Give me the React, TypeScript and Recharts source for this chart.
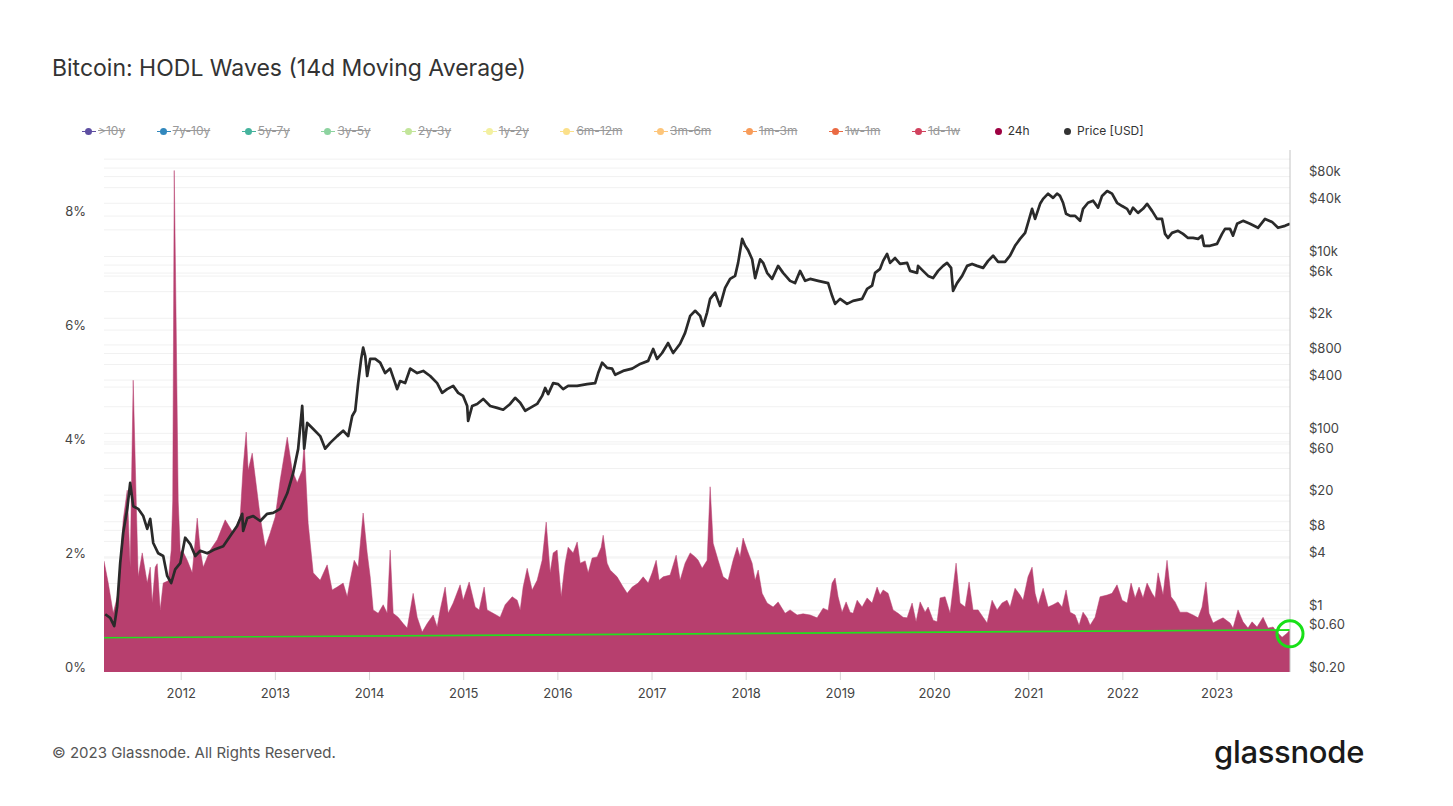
import React from 'react';
import { ComposedChart, Area, Line, XAxis, YAxis, CartesianGrid, ReferenceDot } from 'recharts';

// ---- 24h HODL wave share (%), 14d MA, by decimal year ----
const pctDates = [
  2011.18, 2011.225, 2011.278, 2011.331, 2011.384, 2011.427, 2011.458, 2011.49, 2011.522, 2011.543,
  2011.586, 2011.639, 2011.671, 2011.692, 2011.724, 2011.745, 2011.777, 2011.809, 2011.862, 2011.894,
  2011.91, 2011.926, 2011.947, 2011.968, 2011.99, 2012.011, 2012.064, 2012.117, 2012.17, 2012.202,
  2012.234, 2012.308, 2012.382, 2012.467, 2012.552, 2012.626, 2012.658, 2012.69, 2012.711, 2012.754,
  2012.786, 2012.839, 2012.892, 2012.945, 2012.998, 2013.051, 2013.126, 2013.179, 2013.232, 2013.285,
  2013.306, 2013.348, 2013.402, 2013.476, 2013.55, 2013.603, 2013.656, 2013.72, 2013.763, 2013.794,
  2013.837, 2013.879, 2013.932, 2013.975, 2014.007, 2014.039, 2014.092, 2014.145, 2014.187, 2014.219,
  2014.251, 2014.304, 2014.357, 2014.4, 2014.463, 2014.506, 2014.559, 2014.612, 2014.676, 2014.718,
  2014.75, 2014.803, 2014.835, 2014.888, 2014.962, 2014.994, 2015.058, 2015.122, 2015.164, 2015.217,
  2015.249, 2015.313, 2015.387, 2015.44, 2015.515, 2015.568, 2015.6, 2015.631, 2015.674, 2015.727,
  2015.78, 2015.833, 2015.876, 2015.918, 2015.95, 2015.992, 2016.035, 2016.077, 2016.109, 2016.162,
  2016.205, 2016.237, 2016.29, 2016.322, 2016.364, 2016.417, 2016.46, 2016.481, 2016.523, 2016.555,
  2016.629, 2016.693, 2016.736, 2016.789, 2016.852, 2016.906, 2016.959, 2017.001, 2017.044, 2017.075,
  2017.118, 2017.192, 2017.256, 2017.298, 2017.351, 2017.405, 2017.458, 2017.49, 2017.532, 2017.585,
  2017.617, 2017.649, 2017.702, 2017.755, 2017.808, 2017.861, 2017.904, 2017.935, 2017.967, 2018.01,
  2018.063, 2018.095, 2018.127, 2018.169, 2018.222, 2018.286, 2018.339, 2018.413, 2018.466, 2018.541,
  2018.604, 2018.679, 2018.753, 2018.817, 2018.87, 2018.912, 2018.944, 2018.976, 2019.018, 2019.061,
  2019.103, 2019.135, 2019.178, 2019.231, 2019.284, 2019.337, 2019.39, 2019.422, 2019.454, 2019.507,
  2019.56, 2019.613, 2019.666, 2019.709, 2019.762, 2019.804, 2019.847, 2019.9, 2019.932, 2019.985,
  2020.027, 2020.059, 2020.112, 2020.165, 2020.229, 2020.271, 2020.325, 2020.367, 2020.409, 2020.463,
  2020.516, 2020.558, 2020.611, 2020.664, 2020.717, 2020.77, 2020.802, 2020.855, 2020.908, 2020.94,
  2020.993, 2021.036, 2021.068, 2021.1, 2021.153, 2021.206, 2021.259, 2021.312, 2021.355, 2021.397,
  2021.44, 2021.493, 2021.535, 2021.577, 2021.62, 2021.652, 2021.705, 2021.758, 2021.833, 2021.885,
  2021.938, 2021.992, 2022.045, 2022.087, 2022.13, 2022.172, 2022.214, 2022.257, 2022.31, 2022.342,
  2022.374, 2022.427, 2022.469, 2022.512, 2022.554, 2022.607, 2022.682, 2022.745, 2022.799, 2022.841,
  2022.883, 2022.915, 2022.958, 2023.011, 2023.064, 2023.138, 2023.17, 2023.223, 2023.276, 2023.329,
  2023.372, 2023.425, 2023.489, 2023.542, 2023.595, 2023.637, 2023.691, 2023.744, 2023.775,
];
const pctValues = [
  1.95, 1.56, 1.03, 1.39, 2.67, 3.19, 1.84, 5.12, 3.0, 1.67,
  2.09, 1.56, 1.84, 1.21, 1.84, 1.9, 1.09, 1.56, 1.6, 2.14,
  3.0, 8.8, 6.0, 3.0, 2.1, 2.14, 1.96, 1.74, 2.7, 2.14,
  1.84, 2.14, 2.32, 2.67, 2.44, 2.72, 3.6, 4.21, 3.54, 3.84,
  3.42, 2.72, 2.19, 2.44, 2.72, 3.37, 4.12, 3.54, 3.32, 3.54,
  4.0, 2.61, 1.74, 1.61, 1.88, 1.44, 1.49, 1.56, 1.32, 1.61,
  1.96, 1.84, 2.79, 2.09, 1.67, 1.09, 1.03, 1.18, 1.03, 2.14,
  1.03, 0.96, 0.85, 0.77, 1.38, 0.96, 0.7, 0.85, 1.0, 0.79,
  1.09, 1.49, 1.03, 1.21, 1.53, 1.26, 1.58, 1.14, 1.09, 1.49,
  1.09, 1.03, 0.96, 1.18, 1.32, 1.26, 1.09, 1.49, 1.82, 1.44,
  1.61, 1.96, 2.63, 1.74, 2.09, 2.14, 1.32, 1.91, 2.19, 2.09,
  2.28, 1.91, 1.95, 1.74, 2.0, 2.02, 2.19, 2.4, 1.91, 1.79,
  1.67, 1.49, 1.38, 1.49, 1.56, 1.67, 1.56, 1.74, 1.96, 1.61,
  1.67, 1.7, 2.05, 1.61, 1.91, 2.09, 2.02, 1.96, 1.82, 1.96,
  3.25, 2.26, 1.96, 1.67, 1.61, 1.96, 2.19, 2.02, 2.35, 2.14,
  1.91, 1.61, 1.79, 1.38, 1.21, 1.14, 1.23, 1.03, 1.09, 1.0,
  1.02, 1.0, 0.95, 1.12, 1.08, 1.56, 1.65, 1.32, 1.05, 1.23,
  1.05, 1.03, 1.26, 1.14, 1.3, 1.21, 1.49, 1.35, 1.44, 1.38,
  1.09, 1.03, 0.96, 0.95, 1.21, 0.88, 1.23, 1.05, 1.14, 0.91,
  0.88, 1.3, 1.32, 1.03, 1.91, 1.21, 1.14, 1.58, 1.09, 1.09,
  0.96, 0.86, 1.26, 1.09, 1.21, 1.26, 1.14, 1.47, 1.35, 1.26,
  1.67, 1.84, 1.38, 1.18, 1.47, 1.14, 1.18, 1.23, 1.14, 1.44,
  1.05, 1.0, 0.82, 1.05, 0.95, 0.82, 0.96, 1.32, 1.35, 1.38,
  1.53, 1.26, 1.21, 1.56, 1.3, 1.49, 1.3, 1.56, 1.38, 1.3,
  1.74, 1.35, 1.96, 1.32, 1.23, 1.05, 1.05, 1.0, 0.95, 1.14,
  1.58, 1.03, 0.86, 0.91, 0.95, 0.86, 0.77, 1.09, 0.88, 0.77,
  0.88, 0.79, 0.96, 0.77, 0.79, 0.7, 0.61, 0.68, 0.74,
];

// ---- Price [USD] ----
const priceDates = [
  2011.193, 2011.246, 2011.289, 2011.32, 2011.352, 2011.384, 2011.427, 2011.458, 2011.49, 2011.543,
  2011.597, 2011.639, 2011.671, 2011.703, 2011.756, 2011.809, 2011.851, 2011.894, 2011.936, 2011.99,
  2012.042, 2012.096, 2012.149, 2012.202, 2012.276, 2012.361, 2012.446, 2012.52, 2012.595, 2012.648,
  2012.658, 2012.701, 2012.765, 2012.839, 2012.913, 2012.977, 2013.051, 2013.126, 2013.189, 2013.242,
  2013.285, 2013.306, 2013.338, 2013.402, 2013.476, 2013.529, 2013.582, 2013.656, 2013.72, 2013.773,
  2013.816, 2013.848, 2013.879, 2013.911, 2013.932, 2013.954, 2013.975, 2014.007, 2014.06, 2014.113,
  2014.166, 2014.219, 2014.272, 2014.293, 2014.325, 2014.378, 2014.432, 2014.506, 2014.57, 2014.644,
  2014.718, 2014.771, 2014.824, 2014.888, 2014.941, 2014.994, 2015.037, 2015.047, 2015.09, 2015.143,
  2015.207, 2015.281, 2015.355, 2015.419, 2015.493, 2015.546, 2015.6, 2015.653, 2015.706, 2015.78,
  2015.833, 2015.865, 2015.897, 2015.95, 2016.003, 2016.056, 2016.109, 2016.205, 2016.311, 2016.396,
  2016.428, 2016.47, 2016.523, 2016.576, 2016.608, 2016.693, 2016.789, 2016.874, 2016.959, 2017.012,
  2017.054, 2017.107, 2017.171, 2017.224, 2017.298, 2017.351, 2017.405, 2017.458, 2017.511, 2017.543,
  2017.585, 2017.617, 2017.67, 2017.723, 2017.776, 2017.829, 2017.882, 2017.914, 2017.957, 2017.989,
  2018.02, 2018.063, 2018.095, 2018.148, 2018.18, 2018.222, 2018.275, 2018.339, 2018.392, 2018.466,
  2018.519, 2018.572, 2018.626, 2018.679, 2018.764, 2018.87, 2018.912, 2018.944, 2018.997, 2019.071,
  2019.135, 2019.231, 2019.284, 2019.337, 2019.369, 2019.422, 2019.454, 2019.496, 2019.528, 2019.581,
  2019.634, 2019.709, 2019.74, 2019.815, 2019.825, 2019.878, 2019.932, 2019.985, 2020.038, 2020.091,
  2020.133, 2020.176, 2020.197, 2020.239, 2020.293, 2020.346, 2020.399, 2020.452, 2020.516, 2020.569,
  2020.622, 2020.675, 2020.749, 2020.802, 2020.855, 2020.908, 2020.962, 2020.993, 2021.036, 2021.068,
  2021.121, 2021.153, 2021.206, 2021.259, 2021.301, 2021.333, 2021.365, 2021.397, 2021.44, 2021.493,
  2021.546, 2021.577, 2021.63, 2021.684, 2021.737, 2021.779, 2021.833, 2021.885, 2021.938, 2021.992,
  2022.045, 2022.076, 2022.108, 2022.161, 2022.214, 2022.257, 2022.31, 2022.363, 2022.416, 2022.448,
  2022.48, 2022.522, 2022.586, 2022.639, 2022.692, 2022.745, 2022.799, 2022.841, 2022.862, 2022.926,
  2023.0, 2023.053, 2023.085, 2023.138, 2023.17, 2023.213, 2023.276, 2023.35, 2023.435, 2023.51,
  2023.584, 2023.648, 2023.722, 2023.775,
];
const priceValues = [
  0.9, 0.82, 0.66, 1.11, 3.42, 7.5, 14, 27.5, 15, 14,
  11.6, 8.3, 10.8, 5.75, 4.4, 4.1, 2.44, 2.03, 2.9, 3.4,
  6.6, 5.6, 4.1, 4.7, 4.4, 4.9, 5.3, 6.9, 9.0, 12.3,
  7.9, 11, 11.6, 10.2, 12.3, 12.6, 14, 21, 35.6, 66.7,
  204, 67, 131, 112, 93, 67, 78, 93, 107, 93,
  157, 180, 370, 695, 930, 750, 445, 695, 695, 630,
  480, 540, 370, 316, 390, 370, 540, 480, 508, 445,
  370, 287, 316, 344, 287, 265, 204, 138, 204, 215,
  245, 204, 194, 185, 215, 252, 222, 180, 194, 215,
  265, 326, 278, 370, 360, 316, 344, 344, 360, 370,
  480, 630, 550, 540, 460, 508, 540, 610, 660, 900,
  695, 810, 1050, 810, 1030, 1370, 2130, 2430, 2130, 1640,
  2340, 3320, 3900, 2760, 4420, 5580, 6030, 8470, 15800, 13200,
  11800, 9300, 5700, 9300, 8470, 6530, 5580, 7830, 6530, 5300,
  5000, 6870, 5300, 5580, 5300, 5000, 3590, 2910, 3320, 2910,
  3150, 3310, 4300, 4680, 6530, 7250, 8920, 10700, 8470, 9600,
  8240, 8470, 6870, 6530, 7830, 6870, 6030, 5700, 6870, 7830,
  8470, 7430, 4080, 5000, 6030, 7830, 8240, 7830, 7430, 8920,
  10200, 8700, 8700, 10200, 13200, 15800, 18500, 24000, 34600, 26600,
  39400, 44800, 51300, 46000, 51300, 48400, 40500, 30400, 28800, 28800,
  25300, 34600, 40500, 42700, 35700, 48400, 55000, 51300, 40500, 37200,
  34600, 30400, 35700, 31100, 34600, 39400, 32800, 26600, 26600, 18000,
  16200, 18500, 19500, 18000, 16200, 16200, 15800, 17200, 13200, 13200,
  13900, 18000, 20500, 20500, 17200, 23400, 25300, 23400, 21100, 26600,
  24600, 21100, 22200, 23400,
];

// ---- green trend line (annotation) ----
const trendDates = [2011.18, 2023.775];
const trendValues = [0.6, 0.74];
const markerDate = 2023.775;
const markerValue = 0.67;

// ---- axes ----
const yearTicks = [2012, 2013, 2014, 2015, 2016, 2017, 2018, 2019, 2020, 2021, 2022, 2023];
const pctTicks = [0, 2, 4, 6, 8];
const pctGrid = [1, 2, 3, 4, 5, 6, 7, 8, 9];
const priceTicks = [0.2, 0.6, 1, 4, 8, 20, 60, 100, 400, 800, 2000, 6000, 10000, 40000, 80000];
const priceGrid = [0.4, 0.6, 0.8, 1, 2, 4, 6, 8, 10, 20, 40, 60, 80, 100, 200, 400, 600, 800, 1000,
  2000, 4000, 6000, 8000, 10000, 20000, 40000, 60000, 80000, 100000];

// ---- legend ----
const legendNames = ['>10y', '7y-10y', '5y-7y', '3y-5y', '2y-3y', '1y-2y', '6m-12m', '3m-6m', '1m-3m', '1w-1m', '1d-1w', '24h', 'Price [USD]'];
const legendColors = ['#5e4fa2', '#3288bd', '#45b39d', '#8dd3a0', '#c2e59a', '#f3f0a0', '#fbe08a', '#fdc57a', '#f89c5a', '#ea6a43', '#d1425e', '#9e0142', '#333333'];
const legendActive = [false, false, false, false, false, false, false, false, false, false, false, true, true];

const FONT = 'Inter, "Noto Sans", sans-serif';
const AREA_COLOR = '#b73f6e';

function buildTable() {
  const map = new Map<number, any>();
  const put = (t: number, key: string, v: number) => {
    const row = map.get(t) || { t };
    row[key] = v;
    map.set(t, row);
  };
  pctDates.forEach((t, i) => put(t, 'h24', pctValues[i]));
  priceDates.forEach((t, i) => put(t, 'price', priceValues[i]));
  trendDates.forEach((t, i) => put(t, 'trend', trendValues[i]));
  return Array.from(map.values()).sort((a, b) => a.t - b.t);
}

const fmtPrice = (v: number) => {
  if (v >= 1000) return `$${v / 1000}k`;
  if (v < 1) return `$${v.toFixed(2)}`;
  return `$${v}`;
};

const PctTick = (props: any) => (
  <text x={86} y={props.y - 5} dy="0.35em" textAnchor="end" fill="#444" fontSize={13} fontFamily={FONT}>
    {props.payload.value}%
  </text>
);

const PriceTick = (props: any) => (
  <text x={1309} y={props.y - 5} dy="0.35em" textAnchor="start" fill="#444" fontSize={13} fontFamily={FONT}>
    {fmtPrice(props.payload.value)}
  </text>
);

const YearTick = (props: any) => (
  <text x={props.x} y={props.y} dy="0.71em" textAnchor="middle" fill="#444" fontSize={13} fontFamily={FONT}>
    {props.payload.value}
  </text>
);

export default function App() {
  const data = buildTable();
  return (
    <div style={{ position: 'absolute', left: 0, top: 0, width: 1453, height: 806, background: '#fff', fontFamily: FONT }}>
      <div style={{ position: 'absolute', left: 52, top: 53, fontSize: 23, lineHeight: '30px', color: '#333', fontWeight: 400 }}>
        Bitcoin: HODL Waves (14d Moving Average)
      </div>

      <div style={{ position: 'absolute', left: 85, top: 123, height: 16, display: 'flex', alignItems: 'center', gap: 34.4, fontSize: 12, lineHeight: '16px' }}>
        {legendNames.map((name, i) => (
          <div key={name} style={{ display: 'flex', alignItems: 'center', position: 'relative' }}>
            <span style={{ width: 7, height: 7, borderRadius: 4, background: legendColors[i], display: 'inline-block', marginRight: 6 }} />
            {!legendActive[i] && (
              <span style={{ position: 'absolute', left: -3, width: 14, top: 8, height: 1, background: legendColors[i] }} />
            )}
            <span style={{ color: legendActive[i] ? '#333' : '#999', textDecoration: legendActive[i] ? 'none' : 'line-through' }}>{name}</span>
          </div>
        ))}
      </div>

      <div style={{ position: 'absolute', left: 0, top: 0 }}>
        <ComposedChart width={1453} height={806} data={data} margin={{ top: 150, right: 103, bottom: 104, left: 44 }}>
          <CartesianGrid yAxisId="price" vertical={false} horizontalValues={priceGrid} stroke="#f1f1f1" strokeWidth={1} />
          <CartesianGrid yAxisId="pct" vertical={false} horizontalValues={pctGrid} stroke="#f1f1f1" strokeWidth={1} />
          <XAxis
            dataKey="t"
            type="number"
            domain={[2011.18, 2023.775]}
            allowDataOverflow
            ticks={yearTicks}
            interval={0}
            height={30}
            axisLine={false}
            tickLine={{ stroke: '#d6d6d6' }}
            tickSize={8}
            tickMargin={9}
            tick={<YearTick />}
          />
          <YAxis
            yAxisId="pct"
            orientation="left"
            width={60}
            domain={[0, 9.16]}
            allowDataOverflow
            ticks={pctTicks}
            interval={0}
            axisLine={false}
            tickLine={false}
            tick={<PctTick />}
          />
          <YAxis
            yAxisId="price"
            orientation="right"
            width={60}
            scale="log"
            domain={[0.2, 160000]}
            allowDataOverflow
            ticks={priceTicks}
            interval={0}
            axisLine={{ stroke: '#c4c4c4' }}
            tickLine={false}
            tick={<PriceTick />}
          />
          <Area
            yAxisId="pct"
            type="linear"
            dataKey="h24"
            stroke={AREA_COLOR}
            strokeWidth={0.5}
            fill={AREA_COLOR}
            fillOpacity={1}
            connectNulls
            dot={false}
            activeDot={false}
            isAnimationActive={false}
          />
          <Line
            yAxisId="pct"
            type="linear"
            dataKey="trend"
            stroke="#22e01e"
            strokeWidth={1.6}
            connectNulls
            dot={false}
            activeDot={false}
            isAnimationActive={false}
          />
          <Line
            yAxisId="price"
            type="linear"
            dataKey="price"
            stroke="#2a2a2a"
            strokeWidth={2.7}
            strokeLinejoin="round"
            connectNulls
            dot={false}
            activeDot={false}
            isAnimationActive={false}
          />
          <ReferenceDot
            yAxisId="pct"
            x={markerDate}
            y={markerValue}
            r={13}
            fill="none"
            stroke="#18e018"
            strokeWidth={3}
            ifOverflow="visible"
          />
        </ComposedChart>
      </div>

      <div style={{ position: 'absolute', left: 52, top: 743, fontSize: 15, lineHeight: '20px', color: '#555' }}>
        © 2023 Glassnode. All Rights Reserved.
      </div>
      <div style={{ position: 'absolute', left: 1214, top: 734, fontSize: 31, lineHeight: '36px', color: '#1a1a1a', fontWeight: 500, letterSpacing: -0.3 }}>
        glassnode
      </div>
    </div>
  );
}
